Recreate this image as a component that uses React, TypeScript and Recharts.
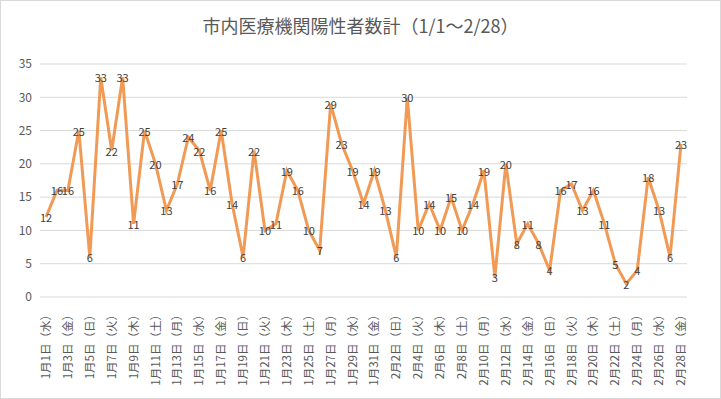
import { LineChart, Line, XAxis, YAxis, CartesianGrid, LabelList } from "recharts";

const dayLabels = [
  "1月1日（水）", "1月2日（木）", "1月3日（金）", "1月4日（土）", "1月5日（日）",
  "1月6日（月）", "1月7日（火）", "1月8日（水）", "1月9日（木）", "1月10日（金）",
  "1月11日（土）", "1月12日（日）", "1月13日（月）", "1月14日（火）", "1月15日（水）",
  "1月16日（木）", "1月17日（金）", "1月18日（土）", "1月19日（日）", "1月20日（月）",
  "1月21日（火）", "1月22日（水）", "1月23日（木）", "1月24日（金）", "1月25日（土）",
  "1月26日（日）", "1月27日（月）", "1月28日（火）", "1月29日（水）", "1月30日（木）",
  "1月31日（金）", "2月1日（土）", "2月2日（日）", "2月3日（月）", "2月4日（火）",
  "2月5日（水）", "2月6日（木）", "2月7日（金）", "2月8日（土）", "2月9日（日）",
  "2月10日（月）", "2月11日（火）", "2月12日（水）", "2月13日（木）", "2月14日（金）",
  "2月15日（土）", "2月16日（日）", "2月17日（月）", "2月18日（火）", "2月19日（水）",
  "2月20日（木）", "2月21日（金）", "2月22日（土）", "2月23日（日）", "2月24日（月）",
  "2月25日（火）", "2月26日（水）", "2月27日（木）", "2月28日（金）",
];

const positives = [
  12, 16, 16, 25, 6, 33, 22, 33, 11, 25,
  20, 13, 17, 24, 22, 16, 25, 14, 6, 22,
  10, 11, 19, 16, 10, 7, 29, 23, 19, 14,
  19, 13, 6, 30, 10, 14, 10, 15, 10, 14,
  19, 3, 20, 8, 11, 8, 4, 16, 17, 13,
  16, 11, 5, 2, 4, 18, 13, 6, 23,
];

const yTicks = [0, 5, 10, 15, 20, 25, 30, 35];

const chartTitle = "市内医療機関陽性者数計（1/1～2/28）";

const data = dayLabels.map((day, i) => ({ day, count: positives[i] }));

const FONT = '"Noto Sans CJK JP", "Noto Sans", sans-serif';

const DateTick = ({ x, y, payload }: any) => (
  <text
    transform={`translate(${x},${y + 4}) rotate(-90)`}
    textAnchor="end"
    dy="0.35em"
    fontSize={11.5}
    fill="#595959"
    fontFamily={FONT}
  >
    {payload.value}
  </text>
);

const PointLabel = ({ x, y, value }: any) => (
  <text
    x={x}
    y={y}
    textAnchor="middle"
    dominantBaseline="central"
    fontSize={11}
    fill="#404040"
    fontFamily={FONT}
  >
    {value}
  </text>
);

export default function App() {
  return (
    <div
      style={{
        position: "absolute",
        left: 0,
        top: 0,
        width: 721,
        height: 399,
        background: "#fff",
        boxShadow: "inset 0 0 0 1px #D9D9D9",
      }}
    >
      <div
        style={{
          position: "absolute",
          top: 12,
          left: 0,
          width: 721,
          textAlign: "center",
          fontFamily: FONT,
          fontSize: 18,
          color: "#595959",
          lineHeight: "26px",
        }}
      >
        {chartTitle}
      </div>
      <LineChart
        width={721}
        height={399}
        data={data}
        margin={{ top: 64, right: 34, bottom: 12, left: 0 }}
      >
        <CartesianGrid vertical={false} stroke="#D9D9D9" />
        <XAxis
          dataKey="day"
          interval={1}
          height={90}
          axisLine={false}
          tickLine={false}
          padding={{ left: 6, right: 6 }}
          tick={<DateTick />}
        />
        <YAxis
          width={40}
          domain={[0, 35]}
          ticks={yTicks}
          axisLine={false}
          tickLine={false}
          tick={{ fontSize: 12, fill: "#595959", fontFamily: FONT }}
        />
        <Line
          type="linear"
          dataKey="count"
          stroke="#F09A55"
          strokeWidth={3}
          dot={false}
          isAnimationActive={false}
        >
          <LabelList dataKey="count" content={<PointLabel />} />
        </Line>
      </LineChart>
    </div>
  );
}
